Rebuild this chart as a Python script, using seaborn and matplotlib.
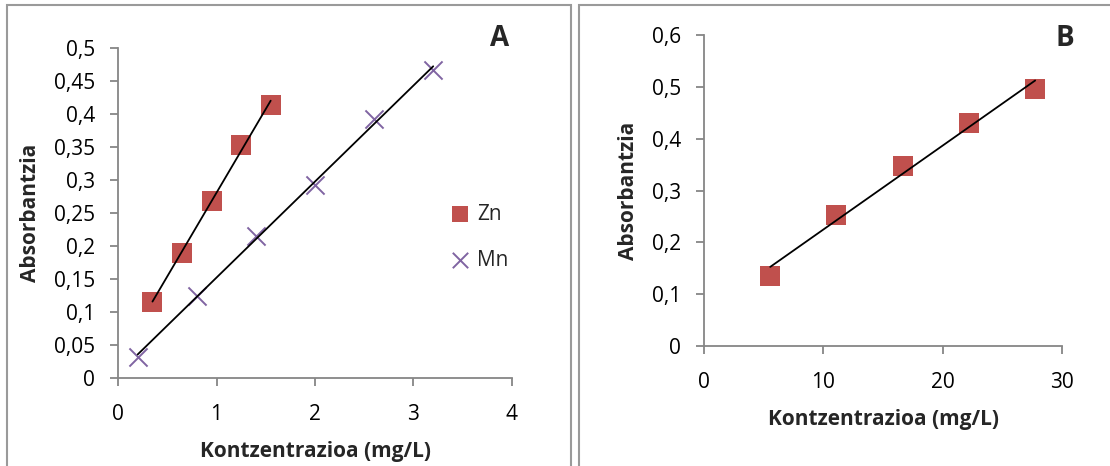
import numpy as np
import pandas as pd
import seaborn as sns
import matplotlib.pyplot as plt
from matplotlib.patches import Rectangle
from matplotlib.ticker import FixedLocator, FixedFormatter

# data
zn_conc = [0.35, 0.65, 0.95, 1.25, 1.55]
zn_abs = [0.115, 0.19, 0.268, 0.353, 0.414]
mn_conc = [0.2, 0.8, 1.4, 2.0, 2.6, 3.2]
mn_abs = [0.032, 0.125, 0.215, 0.292, 0.393, 0.467]
b_conc = [5.55, 11.1, 16.65, 22.2, 27.75]
b_abs = [0.135, 0.253, 0.348, 0.43, 0.496]

a_xticks = [0, 1, 2, 3, 4]
a_yticks = [0, 0.05, 0.1, 0.15, 0.2, 0.25, 0.3, 0.35, 0.4, 0.45, 0.5]
a_ylabels = ["0", "0,05", "0,1", "0,15", "0,2", "0,25", "0,3", "0,35", "0,4", "0,45", "0,5"]
b_xticks = [0, 10, 20, 30]
b_yticks = [0, 0.1, 0.2, 0.3, 0.4, 0.5, 0.6]
b_ylabels = ["0", "0,1", "0,2", "0,3", "0,4", "0,5", "0,6"]

sns.set_style("white")
plt.rcParams['font.family'] = ['Open Sans', 'DejaVu Sans']

red = "#C0504D"
purple = "#8064A2"
gray = "#868686"

W, H = 1110, 466
fig = plt.figure(figsize=(W / 100, H / 100), dpi=100)

def px_axes(x0, y0, x1, y1):
    return fig.add_axes([x0 / W, 1 - y1 / H, (x1 - x0) / W, (y1 - y0) / H])

# panel frames
fig.patches.append(Rectangle((7 / W, -0.1), (571 - 7) / W, 1.1 - 5 / H, transform=fig.transFigure,
                             fill=False, edgecolor="#9a9a9a", linewidth=1.5))
fig.patches.append(Rectangle((579 / W, -0.1), 0.5, 1.1 - 5 / H, transform=fig.transFigure,
                             fill=False, edgecolor="#9a9a9a", linewidth=1.5))

def style_axes(ax, xticks, yticks, ylabels):
    for s in ["top", "right"]:
        ax.spines[s].set_visible(False)
    for s in ["left", "bottom"]:
        ax.spines[s].set_color(gray)
        ax.spines[s].set_linewidth(1.3)
    ax.xaxis.set_major_locator(FixedLocator(xticks))
    ax.set_xticklabels([str(t) for t in xticks])
    ax.yaxis.set_major_locator(FixedLocator(yticks))
    ax.yaxis.set_major_formatter(FixedFormatter(ylabels))
    ax.tick_params(axis="both", which="major", direction="out", length=5.5, width=1.3,
                   color=gray, labelsize=15, labelcolor="black")
    ax.tick_params(axis="x", pad=13)
    ax.tick_params(axis="y", pad=11)
    ax.tick_params(left=True, bottom=True)
    ax.set_xlim(xticks[0], xticks[-1])
    ax.set_ylim(yticks[0], yticks[-1])
    ax.set_xlabel("Kontzentrazioa (mg/L)", fontsize=15, fontweight="bold", labelpad=12)
    ax.set_ylabel("Absorbantzia", fontsize=15, fontweight="bold", labelpad=9)

# panel A
axA = px_axes(118, 48, 512, 378)
sns.scatterplot(x=zn_conc, y=zn_abs, marker="s", color=red, s=200, linewidth=0, ax=axA,
                label="Zn", zorder=2, clip_on=False)
sns.scatterplot(x=mn_conc, y=mn_abs, marker="x", color=purple, s=170, linewidth=1.4, ax=axA,
                label="Mn", zorder=2, clip_on=False)
sns.regplot(x=np.array(zn_conc), y=np.array(zn_abs), scatter=False, ci=None, truncate=True,
            line_kws={"color": "black", "linewidth": 1.3, "zorder": 3}, ax=axA)
sns.regplot(x=np.array(mn_conc), y=np.array(mn_abs), scatter=False, ci=None, truncate=True,
            line_kws={"color": "black", "linewidth": 1.3, "zorder": 3}, ax=axA)
style_axes(axA, a_xticks, a_yticks, a_ylabels)
axA.legend(loc="center left", bbox_to_anchor=(431 / W, 1 - 237 / H), bbox_transform=fig.transFigure,
           frameon=False, fontsize=15, handletextpad=-0.2, labelspacing=1.2, borderaxespad=0,
           markerscale=0.85)
fig.text(500 / W, 1 - 38 / H, "A", fontsize=20, fontweight="bold", ha="center", va="center")

# panel B
axB = px_axes(704, 35, 1062, 346)
sns.scatterplot(x=b_conc, y=b_abs, marker="s", color=red, s=200, linewidth=0, ax=axB,
                zorder=2, clip_on=False)
sns.regplot(x=np.array(b_conc), y=np.array(b_abs), scatter=False, ci=None, truncate=True,
            line_kws={"color": "black", "linewidth": 1.3, "zorder": 3}, ax=axB)
style_axes(axB, b_xticks, b_yticks, b_ylabels)
fig.text(1065 / W, 1 - 38 / H, "B", fontsize=20, fontweight="bold", ha="center", va="center")

fig.savefig("out.png", dpi=100)
